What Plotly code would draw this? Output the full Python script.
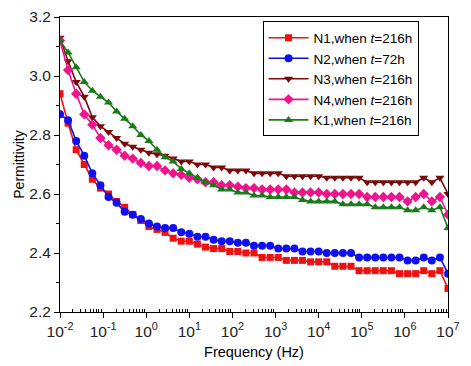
import numpy as np
import plotly.graph_objects as go

# log10 of frequency: 49 points from 10^-2 to 10^7
log_freq = [-2 + 0.1875 * k for k in range(49)]
freq = [10 ** v for v in log_freq]

x_exponents = [-2, -1, 0, 1, 2, 3, 4, 5, 6, 7]
y_ticks = [2.2, 2.4, 2.6, 2.8, 3.0, 3.2]

n1 = [2.94, 2.84, 2.75, 2.70, 2.65, 2.62, 2.60, 2.575, 2.555, 2.53,
      2.51, 2.49, 2.48, 2.47, 2.45, 2.44, 2.44, 2.43, 2.42, 2.415,
      2.415, 2.405, 2.405, 2.40, 2.40, 2.385, 2.385, 2.385, 2.375, 2.375,
      2.375, 2.37, 2.37, 2.37, 2.355, 2.355, 2.355, 2.34, 2.34, 2.34,
      2.34, 2.34, 2.33, 2.33, 2.33, 2.34, 2.33, 2.34, 2.28]
n2 = [2.87, 2.85, 2.78, 2.73, 2.67, 2.63, 2.59, 2.57, 2.54, 2.53,
      2.515, 2.50, 2.49, 2.485, 2.485, 2.47, 2.465, 2.455, 2.455, 2.445,
      2.44, 2.44, 2.435, 2.435, 2.425, 2.425, 2.425, 2.415, 2.415, 2.415,
      2.405, 2.405, 2.405, 2.40, 2.40, 2.40, 2.40, 2.385, 2.385, 2.385,
      2.385, 2.385, 2.385, 2.375, 2.375, 2.385, 2.375, 2.385, 2.33]
n3 = [3.13, 3.05, 2.98, 2.93, 2.86, 2.83, 2.81, 2.79, 2.77, 2.76,
      2.75, 2.74, 2.735, 2.73, 2.72, 2.71, 2.71, 2.70, 2.70, 2.69,
      2.69, 2.68, 2.68, 2.68, 2.67, 2.67, 2.67, 2.67, 2.66, 2.66,
      2.66, 2.66, 2.66, 2.655, 2.655, 2.655, 2.655, 2.655, 2.64, 2.64,
      2.64, 2.64, 2.64, 2.64, 2.64, 2.655, 2.64, 2.655, 2.60]
n4 = [3.12, 3.02, 2.94, 2.87, 2.835, 2.79, 2.765, 2.75, 2.73, 2.72,
      2.705, 2.695, 2.695, 2.68, 2.67, 2.665, 2.655, 2.65, 2.64, 2.64,
      2.63, 2.63, 2.625, 2.62, 2.62, 2.615, 2.615, 2.615, 2.615, 2.605,
      2.605, 2.605, 2.605, 2.60, 2.60, 2.60, 2.60, 2.60, 2.59, 2.59,
      2.59, 2.59, 2.59, 2.575, 2.59, 2.60, 2.575, 2.59, 2.53]
k1 = [3.12, 3.08, 3.03, 2.98, 2.95, 2.93, 2.91, 2.88, 2.855, 2.83,
      2.80, 2.78, 2.75, 2.725, 2.71, 2.685, 2.67, 2.655, 2.64, 2.63,
      2.615, 2.615, 2.605, 2.605, 2.595, 2.595, 2.59, 2.59, 2.59, 2.59,
      2.58, 2.575, 2.575, 2.575, 2.575, 2.565, 2.565, 2.565, 2.565, 2.555,
      2.555, 2.555, 2.555, 2.545, 2.545, 2.555, 2.545, 2.555, 2.485]

series = [
    ("N1,when <i>t</i>=216h", n1, "#EE1111", "square", 7),
    ("N2,when <i>t</i>=72h", n2, "#1010EE", "circle", 8),
    ("N3,when <i>t</i>=216h", n3, "#7A0A0A", "triangle-down", 8),
    ("N4,when <i>t</i>=216h", n4, "#F0148C", "diamond", 8),
    ("K1,when <i>t</i>=216h", k1, "#1A7A1A", "triangle-up", 8),
]

fig = go.Figure()
for name, vals, color, sym, size in series:
    fig.add_trace(go.Scatter(
        x=freq, y=vals, name=name, mode="lines+markers",
        line=dict(color=color, width=1.6),
        marker=dict(symbol=sym, size=size, color=color),
    ))

x_tickvals = [10.0 ** e for e in x_exponents]
x_ticktext = ["10<sup>%d</sup>" % e for e in x_exponents]
x_minor = [m * 10.0 ** e for e in x_exponents[:-1] for m in range(2, 10)]

font_family = "Liberation Sans, Arial, sans-serif"
fig.update_layout(
    width=471, height=366,
    margin=dict(l=60, r=23, t=17, b=54),
    paper_bgcolor="white", plot_bgcolor="white",
    font=dict(family=font_family, size=14, color="black"),
    showlegend=True,
    legend=dict(
        x=0.522, y=0.985, xanchor="left", yanchor="top",
        bgcolor="white", bordercolor="black", borderwidth=1,
        font=dict(size=13.5), itemwidth=40, tracegroupgap=0,
    ),
)
fig.update_xaxes(
    type="log", range=[-2, 7], automargin=False,
    tickmode="array", tickvals=x_tickvals, ticktext=x_ticktext,
    showline=True, linecolor="black", linewidth=1, mirror=True,
    ticks="outside", ticklen=5, tickcolor="black",
    minor=dict(tickmode="array", tickvals=x_minor, ticks="inside", ticklen=3,
               tickcolor="black", showgrid=False),
    showgrid=False, zeroline=False,
    tickfont=dict(size=15.5, color="#222"),
    title=dict(text="Frequency (Hz)", font=dict(size=14.5), standoff=8),
)
fig.update_yaxes(
    range=[2.2, 3.2], automargin=False,
    tickmode="array", tickvals=y_ticks, tickformat=".1f",
    showline=True, linecolor="black", linewidth=1, mirror=True,
    ticks="outside", ticklen=5, tickcolor="black",
    minor=dict(ticks="outside", ticklen=3, dtick=0.1, tickcolor="black", showgrid=False),
    showgrid=False, zeroline=False,
    tickfont=dict(size=15.5, color="#222"),
    title=dict(text="Permittivity", font=dict(size=14), standoff=1),
)

fig.write_html("out.html", config={"displayModeBar": False},
               post_script="document.body.style.margin='0';")
